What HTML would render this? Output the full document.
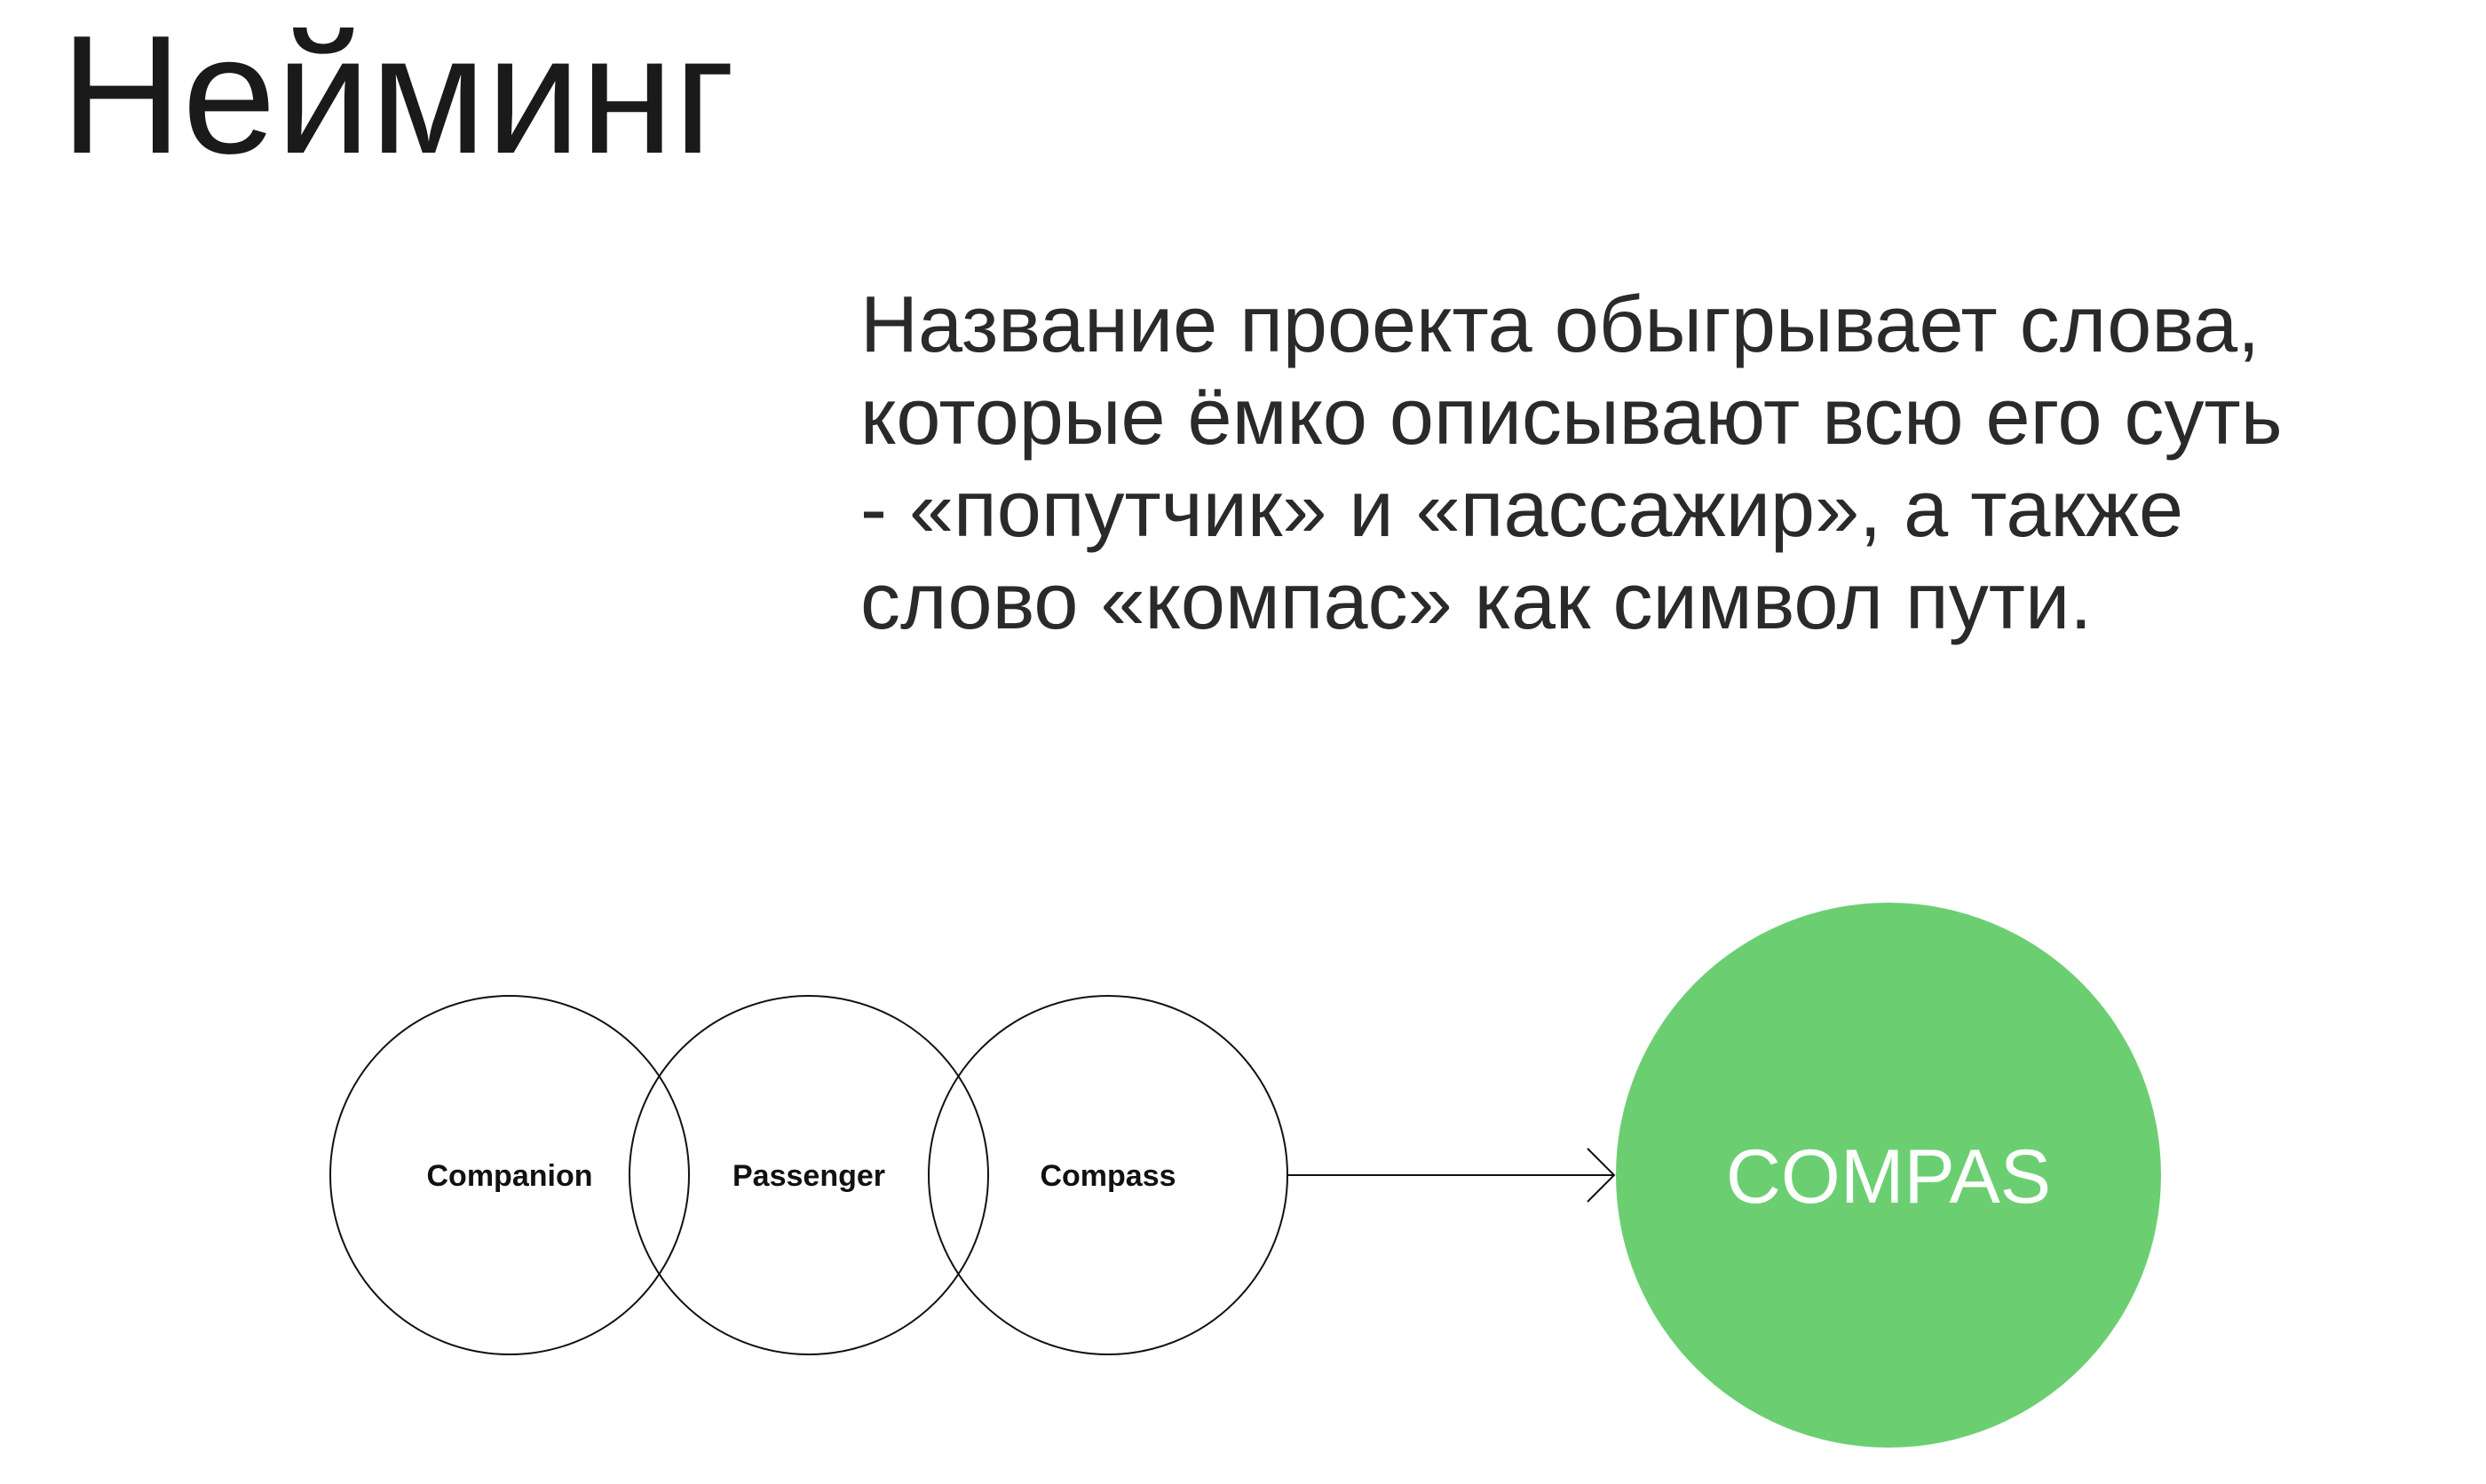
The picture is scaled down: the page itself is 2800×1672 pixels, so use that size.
<!DOCTYPE html>
<html><head><meta charset="utf-8"><style>
html,body{margin:0;padding:0;background:#fff;}
body{width:2800px;height:1672px;position:relative;overflow:hidden;font-family:"Liberation Sans",sans-serif;color:#1a1a1a;}
.t{position:absolute;left:68px;top:12px;font-size:190px;line-height:1;font-weight:500;letter-spacing:0px;}
.p{position:absolute;left:969px;top:314px;font-size:90px;line-height:104px;font-weight:300;color:#2a2a2a;white-space:nowrap;}
</style></head><body>
<div class="t">Нейминг</div>
<div class="p">Название проекта обыгрывает слова,<br>которые ёмко описывают всю его суть<br>- «попутчик» и «пассажир», а также<br>слово «компас» как символ пути.</div>
<svg width="2800" height="1672" style="position:absolute;left:0;top:0">
<g fill="none" stroke="#111" stroke-width="2">
<circle cx="574" cy="1324" r="202"/>
<circle cx="911" cy="1324" r="202"/>
<circle cx="1248" cy="1324" r="202"/>
<line x1="1450" y1="1324" x2="1818" y2="1324"/>
<polyline points="1788,1294 1818,1324 1788,1354"/>
</g>
<circle cx="2127" cy="1324" r="307" fill="#6bcf72"/>
<g font-family="Liberation Sans,sans-serif" font-size="34" font-weight="bold" text-anchor="middle" fill="#111">
<text x="574" y="1336">Companion</text>
<text x="911" y="1336">Passenger</text>
<text x="1248" y="1336">Compass</text>
</g>
<text x="2127" y="1355" font-family="Liberation Sans,sans-serif" font-size="86" text-anchor="middle" fill="#fff">COMPAS</text>
</svg>
</body></html>
